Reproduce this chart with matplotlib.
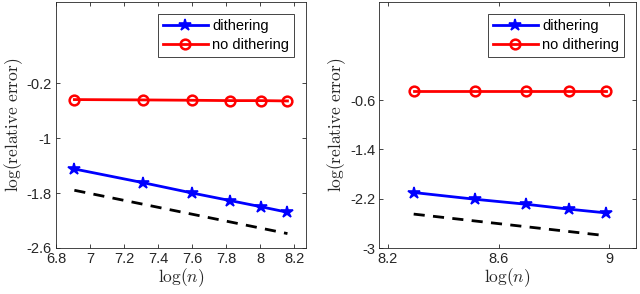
import matplotlib
matplotlib.use("Agg")
import matplotlib.pyplot as plt
import numpy as np

plt.rcParams['font.family'] = ['Liberation Sans', 'DejaVu Sans']
plt.rcParams['mathtext.fontset'] = 'cm'

# Left panel data
x_left = [6.908, 7.313, 7.601, 7.824, 8.006, 8.161]
dith_left = [-1.45, -1.65, -1.80, -1.91, -2.00, -2.08]
nodith_left = [-0.44, -0.445, -0.45, -0.455, -0.455, -0.46]
ref_left = [-1.76, -2.39]
ref_left_x = [6.908, 8.161]

# Right panel data
x_right = [8.294, 8.517, 8.699, 8.854, 8.987]
dith_right = [-2.10, -2.21, -2.29, -2.37, -2.43]
nodith_right = [-0.45, -0.45, -0.45, -0.45, -0.45]
ref_right = [-2.45, -2.80]
ref_right_x = [8.294, 8.987]

left_xticks = [6.8, 7, 7.2, 7.4, 7.6, 7.8, 8, 8.2]
left_xticklabels = ['6.8', '7', '7.2', '7.4', '7.6', '7.8', '8', '8.2']
left_yticks = [-2.6, -1.8, -1.0, -0.2]
left_yticklabels = ['-2.6', '-1.8', '-1', '-0.2']
right_xticks = [8.2, 8.6, 9.0]
right_xticklabels = ['8.2', '8.6', '9']
right_yticks = [-3.0, -2.2, -1.4, -0.6]
right_yticklabels = ['-3', '-2.2', '-1.4', '-0.6']

fig = plt.figure(figsize=(6.4, 2.94), dpi=100)
W, H = 640, 294
axL = fig.add_axes([56 / W, 46 / H, 250 / W, 246 / H])
axR = fig.add_axes([379.3 / W, 46 / H, 256.7 / W, 246 / H])

tc = '#262626'

def style(ax, xlim, ylim, xt, xtl, yt, ytl):
    ax.set_xlim(*xlim)
    ax.set_ylim(*ylim)
    ax.set_xticks(xt)
    ax.set_xticklabels(xtl)
    ax.set_yticks(yt)
    ax.set_yticklabels(ytl)
    ax.tick_params(direction='in', top=True, right=True, length=3,
                   width=0.6, colors=tc, labelsize=10.5, pad=3)
    for s in ax.spines.values():
        s.set_color(tc)
        s.set_linewidth(0.6)
    ax.set_xlabel(r'$\log(n)$', fontsize=12.5, color=tc, labelpad=0)
    ax.set_ylabel(r'$\log(\mathrm{relative\ error})$', fontsize=12.5, color=tc, labelpad=1)

for ax, x, d, nd, rx, r in [(axL, x_left, dith_left, nodith_left, ref_left_x, ref_left),
                            (axR, x_right, dith_right, nodith_right, ref_right_x, ref_right)]:
    ax.plot(x, d, color='blue', lw=2, marker='*', ms=9, mew=1.2, label='dithering')
    ax.plot(x, nd, color='red', lw=2, marker='o', ms=7, mew=1.8, mfc='none', label='no dithering')
    ax.plot(rx, r, color='black', lw=2, ls=(0, (4, 3)))
    leg = ax.legend(loc='upper right', fontsize=10.5, frameon=True, fancybox=False,
                    edgecolor=tc, framealpha=1, borderpad=0.35, labelspacing=0.35,
                    handlelength=3.1, handletextpad=0.3, borderaxespad=0.8)
    leg.get_frame().set_linewidth(0.6)

style(axL, (6.8, 8.27), (-2.6, 0.98), left_xticks, left_xticklabels, left_yticks, left_yticklabels)
style(axR, (8.17, 9.096), (-3.0, 0.99), right_xticks, right_xticklabels, right_yticks, right_yticklabels)

fig.savefig('out.png', dpi=100)
